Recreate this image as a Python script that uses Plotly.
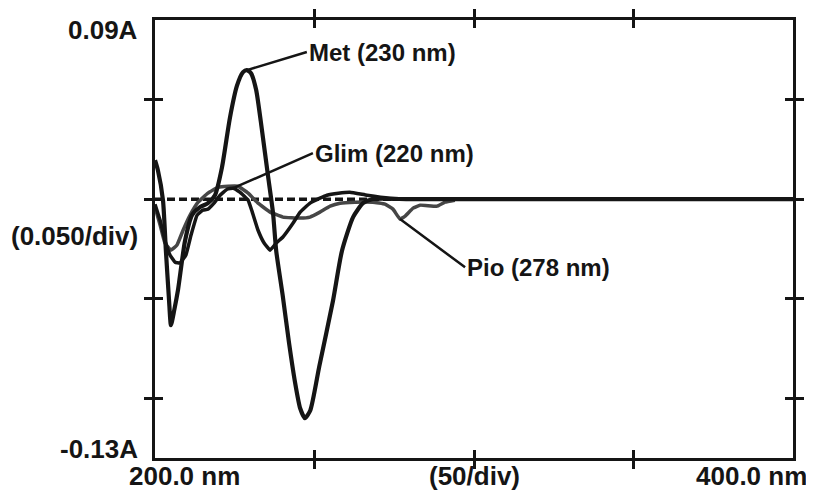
import plotly.graph_objects as go

# ---- data ----
met_nm = [200.0, 200.9, 202.5, 203.4, 204.4, 205.0, 206.0, 207.2, 209.4, 211.6, 214.1, 216.6, 218.8,
          221.0, 223.5, 225.7, 227.6, 228.8, 230.1, 231.7, 233.5, 235.4, 237.0, 238.0, 240.0, 242.0,
          243.9, 245.5, 247.0, 248.7, 251.5, 255.8, 258.6, 262.1, 265.2, 268.0, 280.0, 300.0, 400.0]
met_abs = [0.0196, 0.0146, -0.0005, -0.0256, -0.0508, -0.0633, -0.056, -0.0457, -0.021, -0.008, -0.004,
           -0.002, 0.002, 0.016, 0.041, 0.057, 0.0638, 0.0648, 0.0633, 0.055, 0.035, 0.012, -0.007, -0.026,
           -0.048, -0.072, -0.092, -0.105, -0.110, -0.106, -0.084, -0.051, -0.026, -0.009, -0.002, 0.0,
           0.0, 0.0, 0.0]

glim_nm = [200.0, 201.6, 203.1, 204.7, 206.3, 207.8, 209.7, 211.3, 213.2, 215.0, 216.6, 218.5, 220.4,
           222.6, 224.5, 226.6, 229.2, 230.4, 232.3, 234.2, 236.1, 238.0, 240.1, 243.3, 245.5, 248.6,
           251.7, 253.9, 257.5, 261.1, 266.5, 273.7, 280.0, 287.8]
glim_abs = [-0.0025, -0.0106, -0.0206, -0.028, -0.0317, -0.032, -0.028, -0.018, -0.008, -0.0055, -0.005,
            -0.002, 0.002, 0.005, 0.0055, 0.0035, -0.0005, -0.006, -0.0156, -0.022, -0.0256, -0.022,
            -0.019, -0.012, -0.0065, -0.002, 0.0005, 0.002, 0.003, 0.0035, 0.002, 0.0005, 0.0, 0.0]

pio_nm = [200.0, 201.6, 203.1, 205.0, 206.9, 208.8, 211.0, 213.5, 216.6, 219.8, 222.9, 226.0, 229.2,
          232.3, 236.1, 240.1, 245.5, 248.6, 251.7, 254.9, 258.0, 262.7, 268.3, 272.1, 274.6, 276.8,
          278.4, 280.9, 283.1, 288.4, 290.9, 294.0]
pio_abs = [-0.004, -0.013, -0.022, -0.0256, -0.023, -0.0156, -0.008, -0.0015, 0.003, 0.006, 0.0065,
           0.0065, 0.003, -0.002, -0.0065, -0.009, -0.0095, -0.009, -0.0065, -0.0035, -0.002, -0.0015,
           -0.0015, -0.0025, -0.005, -0.010, -0.0085, -0.0045, -0.003, -0.0035, -0.0015, -0.0005]

x_range = [200, 400]
y_range = [-0.13, 0.09]
x_ticks = [250, 300, 350]
y_ticks = [0.05, 0.0, -0.05, -0.10]

labels = {"met": "Met (230 nm)", "glim": "Glim (220 nm)", "pio": "Pio (278 nm)"}
label_tails = {"met": (247.6, 0.0739), "glim": (249.5, 0.0231), "pio": (297.2, -0.0342)}
axis_texts = {"ytop": "0.09A", "ymid": "(0.050/div)", "ybot": "-0.13A",
              "xleft": "200.0 nm", "xmid": "(50/div)", "xright": "400.0 nm"}

INK = "#151515"
GRAY = "#464646"
LABEL_FONT = dict(family="Arial, 'Liberation Sans', sans-serif", size=24, color=INK, weight="bold")
AXIS_FONT = dict(family="Arial, 'Liberation Sans', sans-serif", size=26, color=INK, weight="bold")

# the page body has an 8px margin: shrink the figure so the plot sits where the reference has it
PAGE_OFF = 8
fig = go.Figure()
fig.add_trace(go.Scatter(x=pio_nm, y=pio_abs, mode="lines",
                         line=dict(color=GRAY, width=3.5, shape="spline", smoothing=0.3)))
fig.add_trace(go.Scatter(x=glim_nm, y=glim_abs, mode="lines",
                         line=dict(color=INK, width=3.5, shape="spline", smoothing=0.3)))
fig.add_trace(go.Scatter(x=met_nm, y=met_abs, mode="lines",
                         line=dict(color=INK, width=4.2, shape="spline", smoothing=0.6)))
# empty trace to activate the overlay axes (inside tick marks)
fig.add_trace(go.Scatter(x=[], y=[], xaxis="x2", yaxis="y2", hoverinfo="skip"))

fig.add_hline(y=0, line=dict(color=INK, width=3.5, dash="8px,4px"), layer="below")

axis_common = dict(showgrid=False, zeroline=False, showticklabels=False, automargin=False,
                   ticklen=8, tickwidth=3, tickcolor=INK)
fig.update_layout(
    template="none",
    width=814 - PAGE_OFF, height=491 - PAGE_OFF,
    margin=dict(l=155 - PAGE_OFF, r=21, t=20 - PAGE_OFF, b=33, autoexpand=False),
    plot_bgcolor="white", paper_bgcolor="white",
    showlegend=False,
    xaxis=dict(range=x_range, tickvals=x_ticks, ticks="outside", mirror="ticks",
               showline=True, linecolor=INK, linewidth=3, **axis_common),
    yaxis=dict(range=y_range, tickvals=y_ticks, ticks="outside", mirror="ticks",
               showline=True, linecolor=INK, linewidth=3, **axis_common),
    xaxis2=dict(range=x_range, tickvals=x_ticks, ticks="inside", mirror="ticks",
                overlaying="x", matches="x", showline=False, **axis_common),
    yaxis2=dict(range=y_range, tickvals=y_ticks, ticks="inside", mirror="ticks",
                overlaying="y", matches="y", showline=False, **axis_common),
)

# curve labels with leader lines
def peak(xs, ys, lo, hi, fn):
    pts = [(x, y) for x, y in zip(xs, ys) if lo <= x <= hi]
    return fn(pts, key=lambda p: p[1])

heads = {
    "met": peak(met_nm, met_abs, 220, 235, max),
    "glim": peak(glim_nm, glim_abs, 218, 230, max),
    "pio": peak(pio_nm, pio_abs, 270, 285, min),
}
for key, (hx, hy) in heads.items():
    tx, ty = label_tails[key]
    fig.add_annotation(x=hx, y=hy, ax=tx, ay=ty, axref="x", ayref="y", xref="x", yref="y",
                       text=labels[key], showarrow=True, arrowhead=0, arrowwidth=2.5,
                       arrowcolor=INK, xanchor="left", yanchor="middle", font=LABEL_FONT)

# axis texts (positions in page pixels -> paper coordinates)
W, H, L, T = 638.0, 438.0, 155.0, 20.0
def px(xp):
    return (xp - L) / W
def py(yp):
    return (T + H - yp) / H

for key, xp, yp, anchor in [("ytop", 140, 30, "right"), ("ymid", 140, 236, "right"),
                            ("ybot", 140, 449, "right"), ("xleft", 184, 476, "center"),
                            ("xmid", 474, 476, "center"), ("xright", 809, 476, "right")]:
    fig.add_annotation(x=px(xp), y=py(yp), xref="paper", yref="paper", text=axis_texts[key],
                       showarrow=False, xanchor=anchor, yanchor="middle", font=AXIS_FONT)

fig.write_html("out.html")
